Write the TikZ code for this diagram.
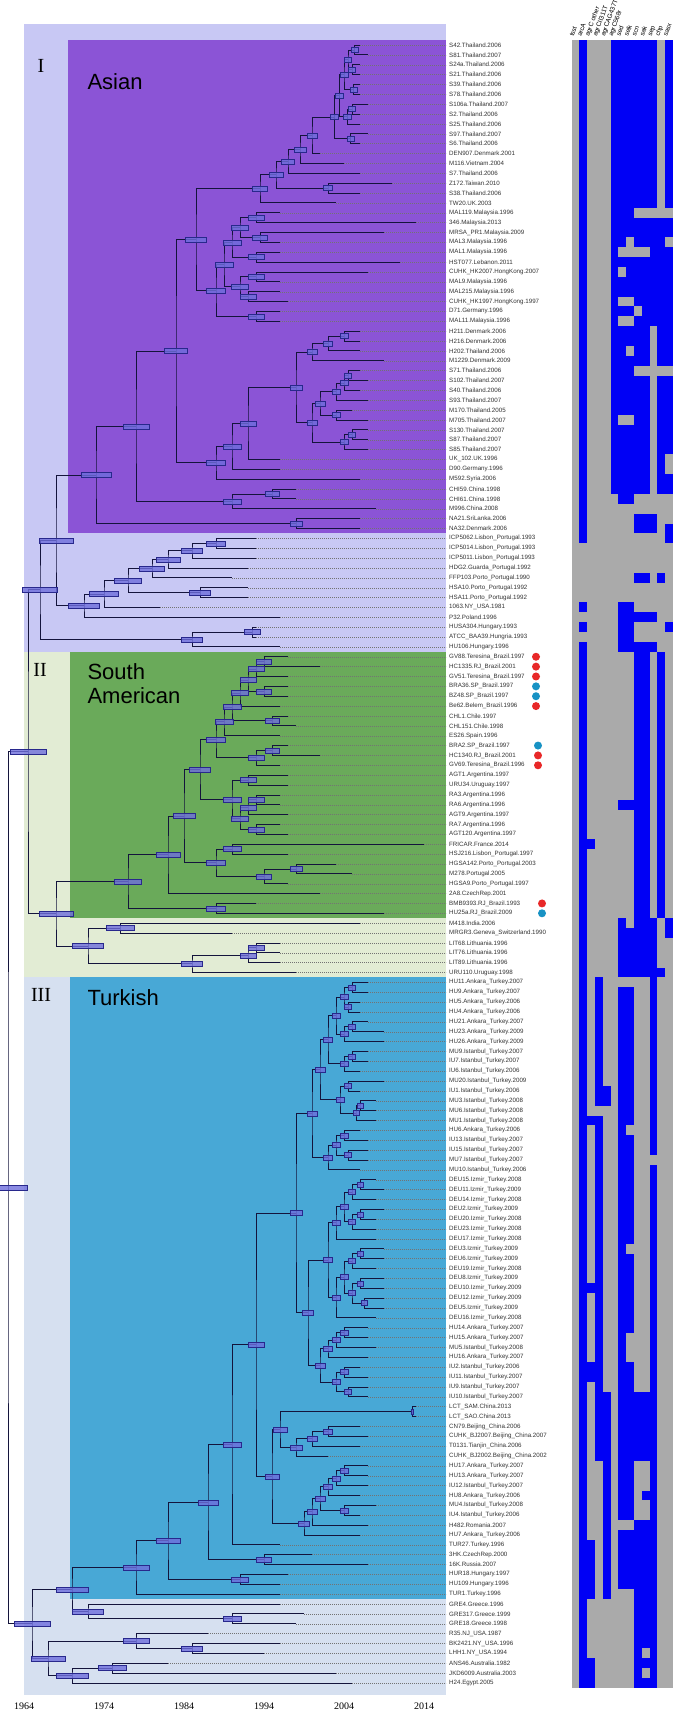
\documentclass[tikz,border=0pt]{standalone}
\usepackage{fontspec}
\setmainfont{Liberation Serif}
\newfontfamily\labfont{Liberation Sans}
\usetikzlibrary{calc}
\pgfdeclarelayer{fg}
\pgfsetlayers{main,fg}
\definecolor{cIbg}{RGB}{200,200,244}
\definecolor{asian}{RGB}{139,84,214}
\definecolor{cIIbg}{RGB}{226,236,212}
\definecolor{sam}{RGB}{106,170,90}
\definecolor{cIIIbg}{RGB}{214,224,240}
\definecolor{turk}{RGB}{72,168,214}
\definecolor{hblue}{RGB}{0,0,245}
\definecolor{hgray}{RGB}{170,170,170}
\definecolor{branch}{RGB}{20,20,60}
\definecolor{hpdfill}{RGB}{110,110,220}
\definecolor{hpdline}{RGB}{40,40,140}
\definecolor{dred}{RGB}{232,40,40}
\definecolor{dblue}{RGB}{24,146,196}
\pgfmathdeclarefunction{YX}{1}{\pgfmathparse{24+(#1-1964)*8.0}}
\pgfmathdeclarefunction{RY}{1}{\pgfmathparse{45+9.867*#1}}
\tikzset{
  br/.style={draw=branch, line width=0.8pt},
  hpd/.style={fill=hpdfill, fill opacity=0.8, draw=hpdline, line width=0.4pt},
  leader/.style={draw=black!55, line width=0.35pt, dash pattern=on 0.7pt off 1.3pt},
  tiplab/.style={anchor=west, inner sep=0pt, font=\labfont\fontsize{6.2}{7}\selectfont, text=black!80},
  hdr/.style={anchor=base west, inner sep=0pt, rotate=70, font=\labfont\fontsize{6.5}{7}\selectfont},
  yrlab/.style={font=\fontsize{10}{12}\selectfont},
  roman/.style={font=\fontsize{20}{22}\selectfont},
  clade/.style={anchor=west, align=left, font=\labfont\fontsize{22}{24}\selectfont},
  dot/.style={circle, inner sep=0pt, minimum size=8pt},
}
\newcommand\nd[4]{%
  \coordinate (#1m) at ($(#3)!.5!(#4)$);
  \coordinate (#1) at ({YX(#2)},0 |- #1m);
  \draw[br] (#3) -| (#1) |- (#4);
  \pgfmathsetmacro\hw{(0.3+(2008-#2)*0.045)*8.0}
  \begin{pgfonlayer}{fg}
  \path[hpd] ($(#1)+(-\hw,-2.5)$) rectangle ($(#1)+(\hw,2.5)$);
  \end{pgfonlayer}
}
\newcommand\hx{571.5}
\newcommand\hy{40.07}
\begin{document}
\begin{tikzpicture}[x=1pt,y=-1pt]
\useasboundingbox (0,0) rectangle (680,1720);
\fill[white] (0,0) rectangle (680,1720);
% clade backgrounds
\fill[cIbg] (24,24) rectangle (446,651.8);
\fill[asian] (68,40.1) rectangle (446,533.4);
\fill[cIIbg] (24,651.8) rectangle (446,977.4);
\fill[sam] (70,651.8) rectangle (446,918.2);
\fill[cIIIbg] (24,977.4) rectangle (446,1695);
\fill[turk] (70,977.4) rectangle (446,1599);
\node[roman] (rI) at (41,66) {I};
\node[roman] (rII) at (40,670) {II};
\node[roman] (rIII) at (41,995) {III};
\node[clade] (cA) at (84,82) {Asian};
\node[clade] (cS) at (84,684) {South\\American};
\node[clade] (cT) at (84,998) {Turkish};
% heatmap: gray ground, blue runs (column/first row/last row), gray holes
\fill[hgray] (\hx,\hy) rectangle ({\hx+7.8*13},{\hy+9.867*167});
\foreach \c/\a/\b in {1/0/50, 1/57/57, 1/59/59, 1/61/166,
  5/0/45, 6/0/46, 7/0/46, 8/0/45, 9/0/45, 10/0/28, 11/18/45, 12/0/41, 12/44/45,
  8/48/49, 9/48/49, 10/48/49, 12/49/50, 8/54/54, 9/54/54, 11/54/54,
  6/57/61, 7/57/61, 8/58/58, 9/58/58, 10/58/58, 12/59/59, 8/61/61, 9/61/61, 10/61/61,
  8/62/88, 9/62/88, 11/62/88, 6/77/77, 7/77/77, 2/81/81,
  6/89/94, 7/89/94, 8/89/94, 9/89/94, 10/89/94, 12/89/90, 11/94/94,
  3/95/107, 3/109/143, 2/109/109, 2/126/126, 2/134/135, 2/152/157, 2/164/166,
  4/106/107, 4/137/157, 6/96/149, 7/96/149, 6/151/156, 7/151/156,
  10/95/112, 10/114/166, 8/137/143, 9/137/143, 9/147/147, 8/150/166, 9/150/166}
  \fill[hblue] ({\hx+7.8*\c},{\hy+9.867*\a}) rectangle ({\hx+7.8*(\c+1)},{\hy+9.867*(\b+1)});
\foreach \c/\a/\b in {8/17/17, 9/17/17, 10/17/17, 12/17/17, 7/20/20, 12/20/20,
  6/21/21, 7/21/21, 8/21/21, 9/21/21, 6/23/23, 6/26/26, 7/26/26, 8/27/27, 6/28/28, 7/28/28,
  7/31/31, 8/33/33, 9/33/33, 11/33/33, 12/33/33, 6/38/38, 7/38/38,
  7/89/89, 7/110/110, 7/122/122, 7/131/133, 9/163/163, 9/165/165}
  \fill[hgray] ({\hx+7.8*\c},{\hy+9.867*\a}) rectangle ({\hx+7.8*(\c+1)},{\hy+9.867*(\b+1)});
\foreach \c/\t in {0/tsst,1/arcA,2/agrC other,3/agrCII311T,4/agrCAG437T,5/agrC568r,6/sed,7/selk,8/scn,9/sak,10/sep,11/chp,12/sasx}
  \node[hdr] (h\c) at ({\hx+7.8*\c+2},37) {\t};
% tips
\foreach \i/\yv/\l in {
0/2006/S42.Thailand.2006,
1/2007/S81.Thailand.2007,
2/2006/S24a.Thailand.2006,
3/2006/S21.Thailand.2006,
4/2006/S39.Thailand.2006,
5/2006/S78.Thailand.2006,
6/2007/S106a.Thailand.2007,
7/2006/S2.Thailand.2006,
8/2006/S25.Thailand.2006,
9/2007/S97.Thailand.2007,
10/2006/S6.Thailand.2006,
11/2001/DEN907.Denmark.2001,
12/2004/M116.Vietnam.2004,
13/2006/S7.Thailand.2006,
14/2010/Z172.Taiwan.2010,
15/2006/S38.Thailand.2006,
16/2003/TW20.UK.2003,
17/1996/MAL119.Malaysia.1996,
18/2013/346.Malaysia.2013,
19/2009/MRSA\_PR1.Malaysia.2009,
20/1996/MAL3.Malaysia.1996,
21/1996/MAL1.Malaysia.1996,
22/2011/HST077.Lebanon.2011,
23/2007/CUHK\_HK2007.HongKong.2007,
24/1996/MAL9.Malaysia.1996,
25/1996/MAL215.Malaysia.1996,
26/1997/CUHK\_HK1997.HongKong.1997,
27/1996/D71.Germany.1996,
28/1996/MAL11.Malaysia.1996,
29/2006/H211.Denmark.2006,
30/2006/H216.Denmark.2006,
31/2006/H202.Thailand.2006,
32/2009/M1229.Denmark.2009,
33/2006/S71.Thailand.2006,
34/2007/S102.Thailand.2007,
35/2006/S40.Thailand.2006,
36/2007/S93.Thailand.2007,
37/2005/M170.Thailand.2005,
38/2007/M705.Thailand.2007,
39/2007/S130.Thailand.2007,
40/2007/S87.Thailand.2007,
41/2007/S85.Thailand.2007,
42/1996/UK\_102.UK.1996,
43/1996/D90.Germany.1996,
44/2006/M592.Syria.2006,
45/1998/CHI59.China.1998,
46/1998/CHI61.China.1998,
47/2008/M996.China.2008,
48/2006/NA21.SriLanka.2006,
49/2006/NA32.Denmark.2006,
50/1993/ICP5062.Lisbon\_Portugal.1993,
51/1993/ICP5014.Lisbon\_Portugal.1993,
52/1993/ICP5011.Lisbon\_Portugal.1993,
53/1992/HDG2.Guarda\_Portugal.1992,
54/1990/FFP103.Porto\_Portugal.1990,
55/1992/HSA10.Porto\_Portugal.1992,
56/1992/HSA11.Porto\_Portugal.1992,
57/1981/1063.NY\_USA.1981,
58/1996/P32.Poland.1996,
59/1993/HUSA304.Hungary.1993,
60/1993/ATCC\_BAA39.Hungria.1993,
61/1996/HU106.Hungary.1996,
62/1997/GV88.Teresina\_Brazil.1997,
63/2001/HC1335.RJ\_Brazil.2001,
64/1997/GV51.Teresina\_Brazil.1997,
65/1997/BRA36.SP\_Brazil.1997,
66/1997/BZ48.SP\_Brazil.1997,
67/1996/Be62.Belem\_Brazil.1996,
68/1997/CHL1.Chile.1997,
69/1998/CHL151.Chile.1998,
70/1996/ES26.Spain.1996,
71/1997/BRA2.SP\_Brazil.1997,
72/2001/HC1340.RJ\_Brazil.2001,
73/1996/GV69.Teresina\_Brazil.1996,
74/1997/AGT1.Argentina.1997,
75/1997/URU34.Uruguay.1997,
76/1996/RA3.Argentina.1996,
77/1996/RA6.Argentina.1996,
78/1997/AGT9.Argentina.1997,
79/1996/RA7.Argentina.1996,
80/1997/AGT120.Argentina.1997,
81/2014/FRICAR.France.2014,
82/1997/HSJ216.Lisbon\_Portugal.1997,
83/2003/HGSA142.Porto\_Portugal.2003,
84/2005/M278.Portugal.2005,
85/1997/HGSA9.Porto\_Portugal.1997,
86/2001/2A8.CzechRep.2001,
87/1993/BMB9393.RJ\_Brazil.1993,
88/2009/HU25a.RJ\_Brazil.2009,
89/2006/M418.India.2006,
90/1990/MRGR3.Geneva\_Switzerland.1990,
91/1996/LIT68.Lithuania.1996,
92/1996/LIT76.Lithuania.1996,
93/1996/LIT89.Lithuania.1996,
94/1998/URU110.Uruguay.1998,
95/2007/HU11.Ankara\_Turkey.2007,
96/2007/HU9.Ankara\_Turkey.2007,
97/2006/HU5.Ankara\_Turkey.2006,
98/2006/HU4.Ankara\_Turkey.2006,
99/2007/HU21.Ankara\_Turkey.2007,
100/2009/HU23.Ankara\_Turkey.2009,
101/2009/HU26.Ankara\_Turkey.2009,
102/2007/MU9.Istanbul\_Turkey.2007,
103/2007/IU7.Istanbul\_Turkey.2007,
104/2006/IU6.Istanbul\_Turkey.2006,
105/2009/MU20.Istanbul\_Turkey.2009,
106/2006/IU1.Istanbul\_Turkey.2006,
107/2008/MU3.Istanbul\_Turkey.2008,
108/2008/MU6.Istanbul\_Turkey.2008,
109/2008/MU1.Istanbul\_Turkey.2008,
110/2006/HU6.Ankara\_Turkey.2006,
111/2007/IU13.Istanbul\_Turkey.2007,
112/2007/IU15.Istanbul\_Turkey.2007,
113/2007/MU7.Istanbul\_Turkey.2007,
114/2006/MU10.Istanbul\_Turkey.2006,
115/2008/DEU15.Izmir\_Turkey.2008,
116/2009/DEU11.Izmir\_Turkey.2009,
117/2008/DEU14.Izmir\_Turkey.2008,
118/2009/DEU2.Izmir\_Turkey.2009,
119/2008/DEU20.Izmir\_Turkey.2008,
120/2008/DEU23.Izmir\_Turkey.2008,
121/2008/DEU17.Izmir\_Turkey.2008,
122/2009/DEU3.Izmir\_Turkey.2009,
123/2009/DEU6.Izmir\_Turkey.2009,
124/2008/DEU19.Izmir\_Turkey.2008,
125/2009/DEU8.Izmir\_Turkey.2009,
126/2009/DEU10.Izmir\_Turkey.2009,
127/2009/DEU12.Izmir\_Turkey.2009,
128/2009/DEU5.Izmir\_Turkey.2009,
129/2008/DEU16.Izmir\_Turkey.2008,
130/2007/HU14.Ankara\_Turkey.2007,
131/2007/HU15.Ankara\_Turkey.2007,
132/2008/MU5.Istanbul\_Turkey.2008,
133/2007/HU16.Ankara\_Turkey.2007,
134/2006/IU2.Istanbul\_Turkey.2006,
135/2007/IU11.Istanbul\_Turkey.2007,
136/2007/IU9.Istanbul\_Turkey.2007,
137/2007/IU10.Istanbul\_Turkey.2007,
138/2013/LCT\_SAM.China.2013,
139/2013/LCT\_SAO.China.2013,
140/2006/CN79.Beijing\_China.2006,
141/2007/CUHK\_BJ2007.Beijing\_China.2007,
142/2006/T0131.Tianjin\_China.2006,
143/2002/CUHK\_BJ2002.Beijing\_China.2002,
144/2007/HU17.Ankara\_Turkey.2007,
145/2007/HU13.Ankara\_Turkey.2007,
146/2007/IU12.Istanbul\_Turkey.2007,
147/2006/HU8.Ankara\_Turkey.2006,
148/2008/MU4.Istanbul\_Turkey.2008,
149/2006/IU4.Istanbul\_Turkey.2006,
150/2007/H482.Romania.2007,
151/2006/HU7.Ankara\_Turkey.2006,
152/1996/TUR27.Turkey.1996,
153/2000/3HK.CzechRep.2000,
154/2007/16K.Russia.2007,
155/1997/HUR18.Hungary.1997,
156/1996/HU109.Hungary.1996,
157/1996/TUR1.Turkey.1996,
158/1996/GRE4.Greece.1996,
159/1999/GRE317.Greece.1999,
160/1998/GRE18.Greece.1998,
161/1987/R35.NJ\_USA.1987,
162/1996/BK2421.NY\_USA.1996,
163/1994/LHH1.NY\_USA.1994,
164/1982/ANS46.Australia.1982,
165/2003/JKD6009.Australia.2003,
166/2005/H24.Egypt.2005}{
  \coordinate (t\i) at ({YX(\yv)},{RY(\i)});
  \node[tiplab] (l\i) at (449,{RY(\i)}) {\l};
  \draw[leader] (t\i) -- ([xshift=-3pt]l\i.west);
}
% Asian clade
\nd{a1}{2005.3}{t0}{t1}
\nd{a2}{2005.0}{t2}{t3}
\nd{a3}{2004.5}{a1}{a2}
\nd{a4}{2005.2}{t4}{t5}
\nd{a5}{2004.0}{a3}{a4}
\nd{a6}{2005.0}{t6}{t7}
\nd{a7}{2004.4}{a6}{t8}
\nd{a8}{2003.4}{a5}{a7}
\nd{a9}{2004.8}{t9}{t10}
\nd{a10}{2002.8}{a8}{a9}
\nd{a11}{2000.0}{a10}{t11}
\nd{a12}{1998.5}{a11}{t12}
\nd{a13}{1997.0}{a12}{t13}
\nd{a14}{2002.0}{t14}{t15}
\nd{a15}{1995.5}{a13}{a14}
\nd{a16}{1993.5}{a15}{t16}
\nd{m1}{1993.0}{t17}{t18}
\nd{m2}{1993.5}{t19}{t20}
\nd{m3}{1991.0}{m1}{m2}
\nd{m4}{1993.0}{t21}{t22}
\nd{m5}{1990.0}{m3}{m4}
\nd{m6}{1993.0}{t23}{t24}
\nd{m7}{1992.0}{t25}{t26}
\nd{m8}{1991.0}{m6}{m7}
\nd{m9}{1989.0}{m5}{m8}
\nd{m10}{1993.0}{t27}{t28}
\nd{m11}{1988.0}{m9}{m10}
\nd{a17}{1985.5}{a16}{m11}
\nd{b1}{2004.0}{t29}{t30}
\nd{b2}{2002.0}{b1}{t31}
\nd{b3}{2000.0}{b2}{t32}
\nd{b4}{2004.5}{t33}{t34}
\nd{b5}{2004.0}{b4}{t35}
\nd{b6}{2003.0}{b5}{t36}
\nd{b7}{2003.0}{t37}{t38}
\nd{b8}{2001.0}{b6}{b7}
\nd{b9}{2005.0}{t39}{t40}
\nd{b10}{2004.0}{b9}{t41}
\nd{b11}{2000.0}{b8}{b10}
\nd{b12}{1998.0}{b3}{b11}
\nd{b13}{1992.0}{b12}{t42}
\nd{b14}{1990.0}{b13}{t43}
\nd{b15}{1988.0}{b14}{t44}
\nd{a18}{1983.0}{a17}{b15}
\nd{c1}{1995.0}{t45}{t46}
\nd{c2}{1990.0}{c1}{t47}
\nd{a19}{1978.0}{a18}{c2}
\nd{c3}{1998.0}{t48}{t49}
\nd{nA}{1973.0}{a19}{c3}
% rest of clade I
\nd{p1}{1988.0}{t50}{t51}
\nd{p2}{1985.0}{p1}{t52}
\nd{p3}{1982.0}{p2}{t53}
\nd{p4}{1980.0}{p3}{t54}
\nd{p5}{1986.0}{t55}{t56}
\nd{p6}{1977.0}{p4}{p5}
\nd{p7}{1974.0}{p6}{t57}
\nd{p8}{1971.5}{p7}{t58}
\nd{h1}{1992.5}{t59}{t60}
\nd{h2}{1985.0}{h1}{t61}
\nd{nI1}{1968.0}{nA}{p8}
\nd{nI}{1966.0}{nI1}{h2}
% clade II
\nd{s1}{1994.0}{t62}{t63}
\nd{s2}{1993.0}{s1}{t64}
\nd{s3}{1994.0}{t65}{t66}
\nd{s4}{1992.0}{s2}{s3}
\nd{s5}{1991.0}{s4}{t67}
\nd{s6}{1995.0}{t68}{t69}
\nd{s7}{1990.0}{s5}{s6}
\nd{s8}{1989.0}{s7}{t70}
\nd{s9}{1995.0}{t71}{t72}
\nd{s10}{1993.0}{s9}{t73}
\nd{s11}{1988.0}{s8}{s10}
\nd{s12}{1992.0}{t74}{t75}
\nd{s13}{1993.0}{t76}{t77}
\nd{s14}{1992.0}{s13}{t78}
\nd{s15}{1993.0}{t79}{t80}
\nd{s16}{1991.0}{s14}{s15}
\nd{s17}{1990.0}{s12}{s16}
\nd{s18}{1986.0}{s11}{s17}
\nd{s19}{1990.0}{t81}{t82}
\nd{s20}{1998.0}{t83}{t84}
\nd{s21}{1994.0}{s20}{t85}
\nd{s22}{1988.0}{s19}{s21}
\nd{s23}{1984.0}{s18}{s22}
\nd{s24}{1982.0}{s23}{t86}
\nd{s25}{1988.0}{t87}{t88}
\nd{nSA}{1977.0}{s24}{s25}
\nd{q1}{1976.0}{t89}{t90}
\nd{q2}{1993.0}{t91}{t92}
\nd{q3}{1992.0}{q2}{t93}
\nd{q4}{1985.0}{q3}{t94}
\nd{q5}{1972.0}{q1}{q4}
\nd{nII}{1968.0}{nSA}{q5}
\nd{nIII0}{1964.5}{nI}{nII}
% clade III
\nd{u1}{2005.0}{t95}{t96}
\nd{u2}{2004.5}{t97}{t98}
\nd{u3}{2004.0}{u1}{u2}
\nd{u4}{2005.0}{t99}{t100}
\nd{u5}{2004.0}{u4}{t101}
\nd{u6}{2003.0}{u3}{u5}
\nd{u7}{2005.0}{t102}{t103}
\nd{u8}{2004.0}{u7}{t104}
\nd{u9}{2002.0}{u6}{u8}
\nd{u10}{2004.5}{t105}{t106}
\nd{u11}{2006.0}{t107}{t108}
\nd{u12}{2005.5}{u11}{t109}
\nd{u13}{2003.5}{u10}{u12}
\nd{u14}{2001.0}{u9}{u13}
\nd{u15}{2004.0}{t110}{t111}
\nd{u16}{2004.5}{t112}{t113}
\nd{u17}{2003.0}{u15}{u16}
\nd{u18}{2002.0}{u17}{t114}
\nd{u19}{2000.0}{u14}{u18}
\nd{d1}{2006.0}{t115}{t116}
\nd{d2}{2005.0}{d1}{t117}
\nd{d3}{2006.0}{t118}{t119}
\nd{d4}{2005.0}{d3}{t120}
\nd{d5}{2004.0}{d2}{d4}
\nd{d6}{2003.0}{d5}{t121}
\nd{d7}{2006.0}{t122}{t123}
\nd{d8}{2005.0}{d7}{t124}
\nd{d9}{2006.0}{t125}{t126}
\nd{d10}{2006.5}{t127}{t128}
\nd{d11}{2005.0}{d9}{d10}
\nd{d12}{2004.0}{d8}{d11}
\nd{d13}{2003.0}{d12}{t129}
\nd{d14}{2002.0}{d6}{d13}
\nd{e1}{2004.0}{t130}{t131}
\nd{e2}{2003.0}{e1}{t132}
\nd{e3}{2002.0}{e2}{t133}
\nd{e4}{2004.0}{t134}{t135}
\nd{e5}{2004.5}{t136}{t137}
\nd{e6}{2003.0}{e4}{e5}
\nd{e7}{2001.0}{e3}{e6}
\nd{w1}{1999.5}{d14}{e7}
\nd{w2}{1998.0}{u19}{w1}
\nd{f1}{2012.5}{t138}{t139}
\nd{f2}{2002.0}{t140}{t141}
\nd{f3}{2000.0}{f2}{t142}
\nd{f4}{1998.0}{f3}{t143}
\nd{f5}{1996.0}{f1}{f4}
\nd{g1}{2004.0}{t144}{t145}
\nd{g2}{2003.0}{g1}{t146}
\nd{g3}{2002.0}{g2}{t147}
\nd{g4}{2004.0}{t148}{t149}
\nd{g5}{2001.0}{g3}{g4}
\nd{g6}{2000.0}{g5}{t150}
\nd{g7}{1999.0}{g6}{t151}
\nd{g8}{1995.0}{f5}{g7}
\nd{w3}{1993.0}{w2}{g8}
\nd{k1}{1990.0}{w3}{t152}
\nd{k2}{1994.0}{t153}{t154}
\nd{k3}{1987.0}{k1}{k2}
\nd{k4}{1991.0}{t155}{t156}
\nd{k5}{1982.0}{k3}{k4}
\nd{nT}{1978.0}{k5}{t157}
\nd{r1}{1990.0}{t159}{t160}
\nd{r2}{1972.0}{t158}{r1}
\nd{x1}{1970.0}{nT}{r2}
\nd{r3}{1985.0}{t162}{t163}
\nd{r4}{1978.0}{t161}{r3}
\nd{r5}{1975.0}{t164}{t165}
\nd{r6}{1970.0}{r5}{t166}
\nd{r7}{1967.0}{r4}{r6}
\nd{nIII}{1965.0}{x1}{r7}
\nd{root}{1962.0}{nIII0}{nIII}
% red / blue dots
\foreach \r/\x/\c in {62/536/dred,63/536/dred,64/536/dred,65/536/dblue,66/536/dblue,67/536/dred,
  71/538/dblue,72/538/dred,73/538/dred,87/542/dred,88/542/dblue}
  \node[dot, fill=\c] (d\r) at (\x,{RY(\r)}) {};
% time axis labels
\foreach \yv in {1964,1974,1984,1994,2004,2014}
  \node[yrlab] (y\yv) at ({YX(\yv)},1706) {\yv};
\end{tikzpicture}
\end{document}
